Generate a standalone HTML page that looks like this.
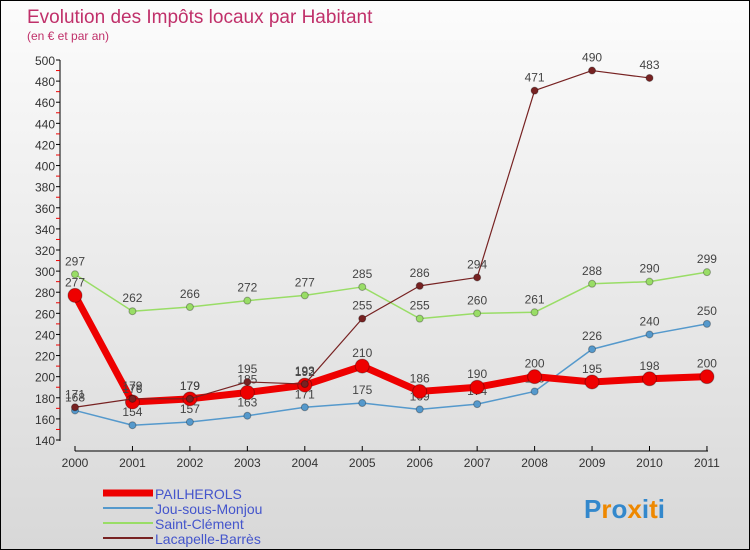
<!DOCTYPE html>
<html><head><meta charset="utf-8"><style>
body{margin:0}
#c{width:748px;height:548px;border:1px solid #000;background:linear-gradient(#fcfcfc,#d8d8d8);position:relative;font-family:"Liberation Sans",sans-serif;overflow:hidden}
</style></head><body>
<div id="c">
<svg id="s" width="748" height="548"></svg>
</div>
<script>
const years=["2000","2001","2002","2003","2004","2005","2006","2007","2008","2009","2010","2011"];
const pailherols=[277,176,179,185,192,210,186,190,200,195,198,200];
const jou=[168,154,157,163,171,175,169,174,186,226,240,250];
const saint=[297,262,266,272,277,285,255,260,261,288,290,299];
const lacapelle=[171,179,179,195,193,255,286,294,471,490,483];
const yTicks=[140,160,180,200,220,240,260,280,300,320,340,360,380,400,420,440,460,480,500];
const NS="http://www.w3.org/2000/svg";
const s=document.getElementById('s');
function X(i){return 74+i*57.45;}
function Y(v){return 59+(500-v)*380/360;}
function el(t,a,p){const e=document.createElementNS(NS,t);for(const k in a)e.setAttribute(k,a[k]);(p||s).appendChild(e);return e;}
function tx(x,y,str,a){const e=el('text',Object.assign({x:x,y:y},a));e.textContent=str;return e;}
let t=tx(26,22,"Evolution des Impôts locaux par Habitant",{fill:"#c0306a","font-size":19});

t=tx(26,39,"(en € et par an)",{fill:"#c0306a","font-size":12});

// axes
let ax=el('line',{x1:59,y1:59,x2:59,y2:440,stroke:"#000"});

ax=el('line',{x1:74,y1:450,x2:707,y2:450,stroke:"#000"});

yTicks.forEach(v=>{
 el('line',{x1:55,y1:Y(v),x2:59,y2:Y(v),stroke:"#000"});
 if(v<500)el('line',{x1:55,y1:Y(v+10),x2:59,y2:Y(v+10),stroke:"#e00"});
 const l=tx(54,Y(v)+5,String(v),{"text-anchor":"end","font-size":12,fill:"#333"});
 
});
years.forEach((y,i)=>{
 el('line',{x1:X(i),y1:445,x2:X(i),y2:450,stroke:"#000"});
 const l=tx(X(i),466,y,{"text-anchor":"middle","font-size":12,fill:"#333"});
 
});
function series(data,color,w,r,name,above){
 const g=el('g',{});
 
 el('polyline',{points:data.map((v,i)=>X(i)+','+Y(v)).join(' '),fill:'none',stroke:color,'stroke-width':w,'stroke-linejoin':'round'},g);
 data.forEach((v,i)=>{
  const c=el('circle',{cx:X(i),cy:Y(v),r:r,fill:color,stroke:'rgba(0,0,0,0.3)','stroke-width':1},g);
  
  const l=tx(X(i),Y(v)+(above?-9:-9),String(v),{"text-anchor":"middle","font-size":12,fill:"#444"},g);
  
 });
}
series(saint,"#99dd66",1.5,3.5,"saint-clement-series",true);
series(jou,"#5599cc",1.5,3.5,"jou-sous-monjou-series",true);
series(pailherols,"#ee0000",7,7,"pailherols-series",true);
series(lacapelle,"#772222",1.2,3.5,"lacapelle-barres-series",true);
// legend
const leg=[["PAILHEROLS","#ee0000",7],["Jou-sous-Monjou","#5599cc",2],["Saint-Clément","#99dd66",2],["Lacapelle-Barrès","#772222",2]];
leg.forEach((L,i)=>{
 const g=el('g',{});
 const y=492+i*15;
 el('line',{x1:102,y1:y,x2:152,y2:y,stroke:L[1],'stroke-width':L[2]},g);
 tx(154,y+6,L[0],{"font-size":14,fill:"#4455cc"},g);
});
const p=el('text',{x:583,y:517,"font-size":26,"font-weight":"bold"});

[["P","#3388cc"],["r","#ee8800"],["o","#3388cc"],["x","#ee8800"],["i","#3388cc"],["t","#ee8800"],["i","#3388cc"]].forEach(a=>{const ts=el('tspan',{fill:a[1]},p);ts.textContent=a[0];});
</script>
</body></html>
